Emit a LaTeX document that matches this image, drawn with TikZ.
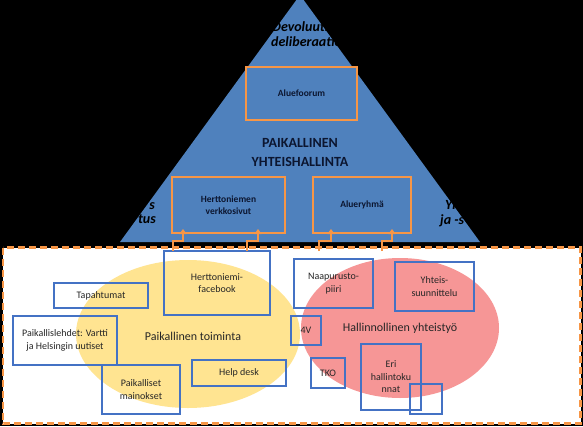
\documentclass[tikz,border=0pt]{standalone}
\usepackage{fontspec}
\setmainfont{Carlito}
\usetikzlibrary{arrows.meta}
\definecolor{tblue}{RGB}{79,129,189}
\definecolor{oran}{RGB}{247,150,70}
\definecolor{bblue}{RGB}{68,114,196}
\definecolor{yel}{RGB}{255,228,145}
\definecolor{salmon}{RGB}{240,80,80}
\definecolor{navy}{RGB}{12,22,48}
\begin{document}
\begin{tikzpicture}[x=1pt,y=-1pt,
  tribox/.style={draw=oran, line width=2.5pt, fill=tblue, inner sep=0pt,
    font=\fontsize{9.5}{11.5}\selectfont\bfseries, text=navy, align=center},
  bbox/.style={draw=bblue, line width=1.8pt, inner sep=0pt,
    font=\fontsize{10}{12.5}\selectfont, text=black!85, align=center},
  oarr/.style={draw=oran, line width=2pt, -{Triangle[width=7pt,length=5pt]}},
  ital/.style={font=\fontsize{14}{16}\selectfont\bfseries\itshape, text=black, inner sep=0pt},
  biglabel/.style={font=\fontsize{12}{14}\selectfont, text=black!85, inner sep=0pt}]
\clip (0,0) rectangle (583,426);
\useasboundingbox (0,0) rectangle (583,426);
\fill[black] (0,0) rectangle (583,426);
% pyramid
\fill[tblue] (300,-5) -- (480,242) -- (120,242) -- cycle;
\node[tribox, minimum width=111pt, minimum height=53pt] (foorum) at (301.5,93.5) {Aluefoorum};
\node[tribox, minimum width=113pt, minimum height=56pt] (verkko) at (228.5,205) {Herttoniemen\\verkkosivut};
\node[tribox, minimum width=98pt, minimum height=56pt] (ryhma) at (362,205) {Alueryhmä};
\node[font=\fontsize{14}{19}\selectfont\bfseries, text=navy, align=center, inner sep=0pt] (phall) at (300,152.5) {PAIKALLINEN\\YHTEISHALLINTA};
\node[ital, anchor=base west] (t1) at (272,31) {Devoluutio};
\node[ital, anchor=base west] (t2) at (271,46) {deliberaatio};
\node[ital, anchor=base east] (l1) at (155,209) {s};
\node[ital, anchor=base east] (l2) at (156,223) {tus};
\node[ital, anchor=base west] (r1) at (445,209) {Yh};
\node[ital, anchor=base west] (r2) at (440,224) {ja -s};
% lower area
\draw[oran, line width=2.5pt, dash pattern=on 7pt off 4pt, fill=white] (3,247.5) rectangle (580.5,423.5);
\fill[yel] (188,334) ellipse [x radius=112pt, y radius=74pt];
\fill[salmon, fill opacity=0.6] (400,328) ellipse [x radius=99pt, y radius=70pt];
\node[biglabel] (ptoim) at (193,336) {Paikallinen toiminta};
\node[biglabel] (hyht) at (400,328) {Hallinnollinen yhteistyö};
\node[bbox, minimum width=106pt, minimum height=64pt] (hface) at (217,283) {Herttoniemi-\\facebook};
\node[bbox, minimum width=94pt, minimum height=25pt] (tapa) at (101,295.5) {Tapahtumat};
\node[bbox, minimum width=104pt, minimum height=49pt] (lehdet) at (65,340.5) {Paikallislehdet: Vartti\\ja Helsingin uutiset};
\node[bbox, minimum width=78pt, minimum height=49pt] (mainos) at (141,389.5) {Paikalliset\\mainokset};
\node[bbox, minimum width=94pt, minimum height=26pt] (help) at (239,373) {Help desk};
\node[bbox, minimum width=79pt, minimum height=49pt] (naap) at (333.5,283.5) {Naapurusto-\\piiri};
\node[bbox, minimum width=79pt, minimum height=49pt] (yhts) at (434.5,286.5) {Yhteis-\\suunnittelu};
\node[bbox, minimum width=30pt, minimum height=29pt] (nelv) at (306,330.5) {4V};
\node[bbox, minimum width=34pt, minimum height=30pt] (tko) at (328,373) {TKO};
\node[bbox, minimum width=60pt, minimum height=66pt] (eri) at (391,377) {Eri\\hallintoku\\nnat};
\node[bbox, minimum width=32pt, minimum height=30pt] (small) at (426,399) {};
% arrows
\coordinate (a1s) at (173,251); \coordinate (a1t) at (183,229);
\coordinate (a2s) at (247,251); \coordinate (a2t) at (258,229);
\coordinate (a3s) at (319,251); \coordinate (a3t) at (331,229);
\coordinate (a4s) at (382,251); \coordinate (a4t) at (392,229);
\draw[oarr] (a1s) -- ++(0,-10) -| (a1t);
\draw[oarr] (a2s) -- ++(0,-10) -| (a2t);
\draw[oarr] (a3s) -- ++(0,-10) -| (a3t);
\draw[oarr] (a4s) -- ++(0,-10) -| (a4t);
\end{tikzpicture}
\end{document}
